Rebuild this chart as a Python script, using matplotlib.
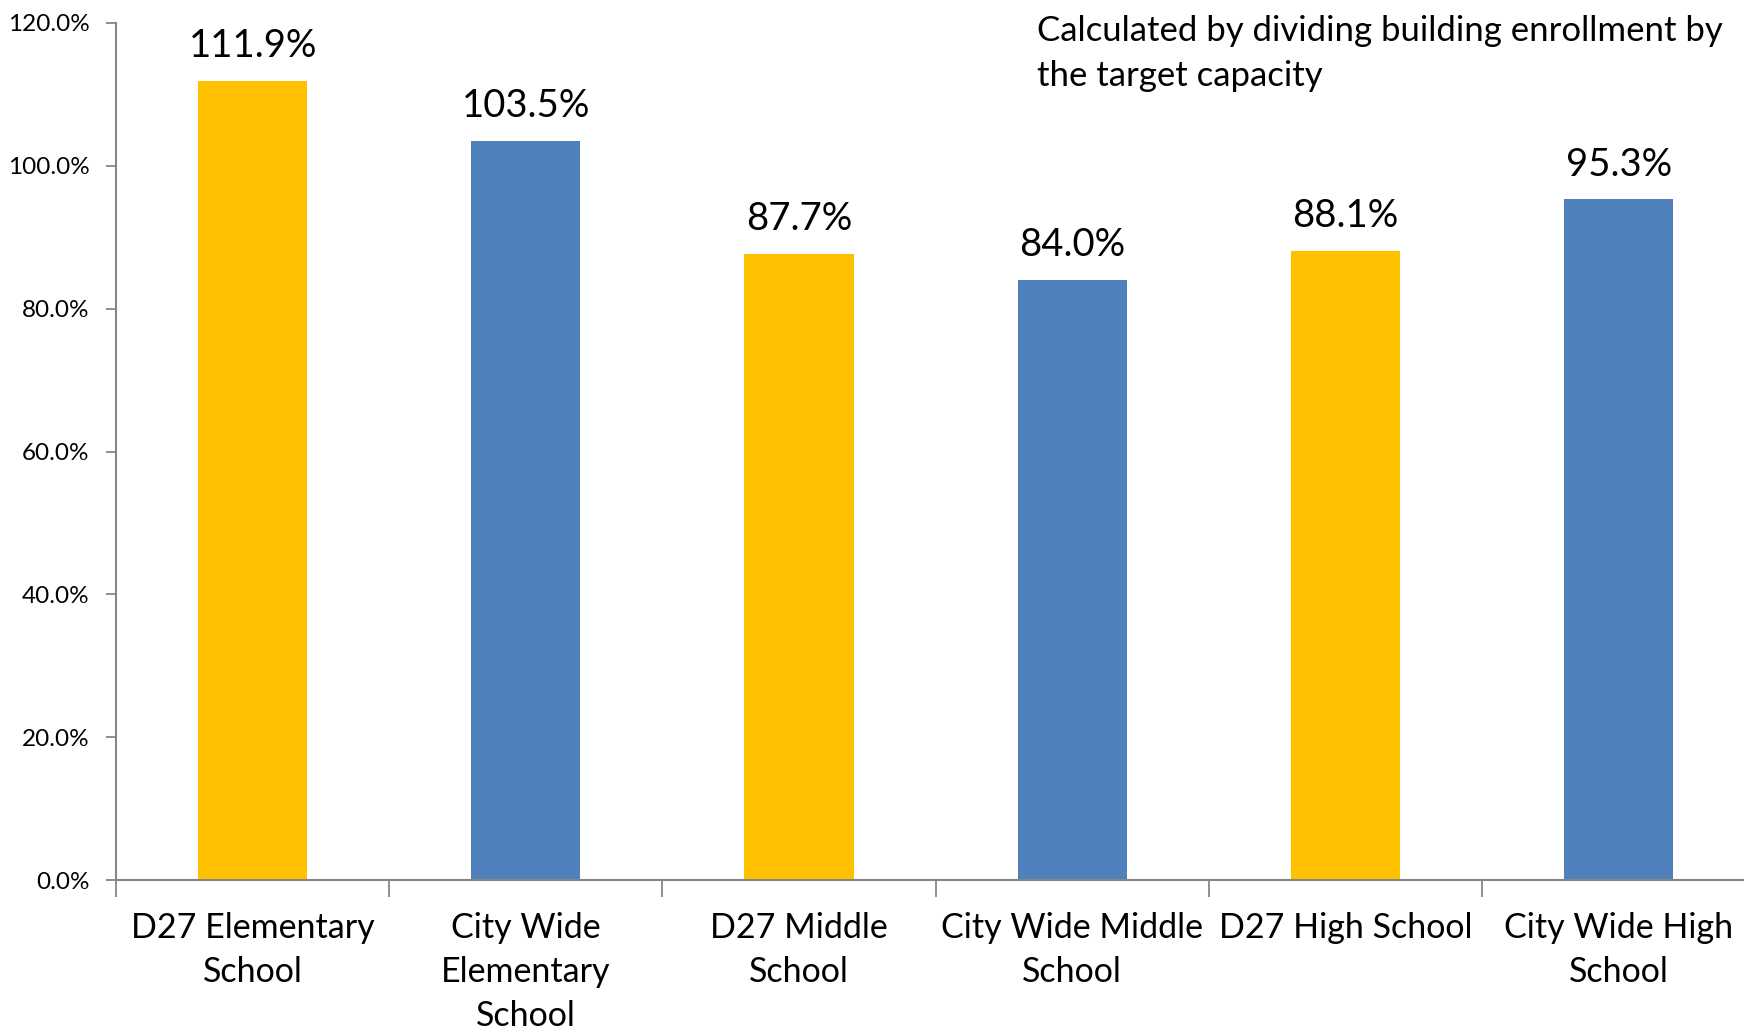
import matplotlib
matplotlib.use("Agg")
import matplotlib.pyplot as plt
from matplotlib.ticker import FuncFormatter, MultipleLocator

plt.rcParams["font.family"] = ["Lato", "DejaVu Sans"]

categories = ["D27 Elementary\nSchool", "City Wide\nElementary\nSchool",
              "D27 Middle\nSchool", "City Wide Middle\nSchool",
              "D27 High School", "City Wide High\nSchool"]
values = [111.9, 103.5, 87.7, 84.0, 88.1, 95.3]
bar_colors = ["#FFC000", "#4F81BD", "#FFC000", "#4F81BD", "#FFC000", "#4F81BD"]
note = "Calculated by dividing building enrollment by\nthe target capacity"

fig = plt.figure(figsize=(17.44, 10.32), dpi=100)
ax = fig.add_axes([0.0665, 0.147, 0.94, 0.831])

x = range(len(values))
bars = ax.bar(x, values, width=0.40, color=bar_colors)

for b, v in zip(bars, values):
    ax.annotate(f"{v:.1f}%", (b.get_x() + b.get_width() / 2, v),
                xytext=(0, 12), textcoords="offset points",
                ha="center", va="bottom", fontsize=27.5)

ax.set_xlim(-0.5, 5.5)
ax.set_ylim(0, 120)
ax.yaxis.set_major_locator(MultipleLocator(20))
ax.yaxis.set_major_formatter(FuncFormatter(lambda v, p: f"{v:.1f}%"))

# category labels centred under the bars, ticks at the boundaries
ax.set_xticks(list(x))
ax.set_xticklabels(categories, fontsize=24.5, linespacing=1.45)
ax.tick_params(axis="x", length=0, pad=23)
ax.set_xticks([i - 0.5 for i in range(len(values) + 1)], minor=True)
ax.tick_params(axis="x", which="minor", length=12, width=1.3, color="#868686")
ax.tick_params(axis="y", labelsize=17.5, length=7, width=1.3, color="#868686", pad=12)

for s in ["top", "right"]:
    ax.spines[s].set_visible(False)
for s in ["left", "bottom"]:
    ax.spines[s].set_color("#868686")
    ax.spines[s].set_linewidth(1.5)

fig.text(1037 / 1744, 1 - 15 / 1032, note, ha="left", va="top",
         fontsize=25, linespacing=1.5)

fig.savefig("out.png", dpi=100)
